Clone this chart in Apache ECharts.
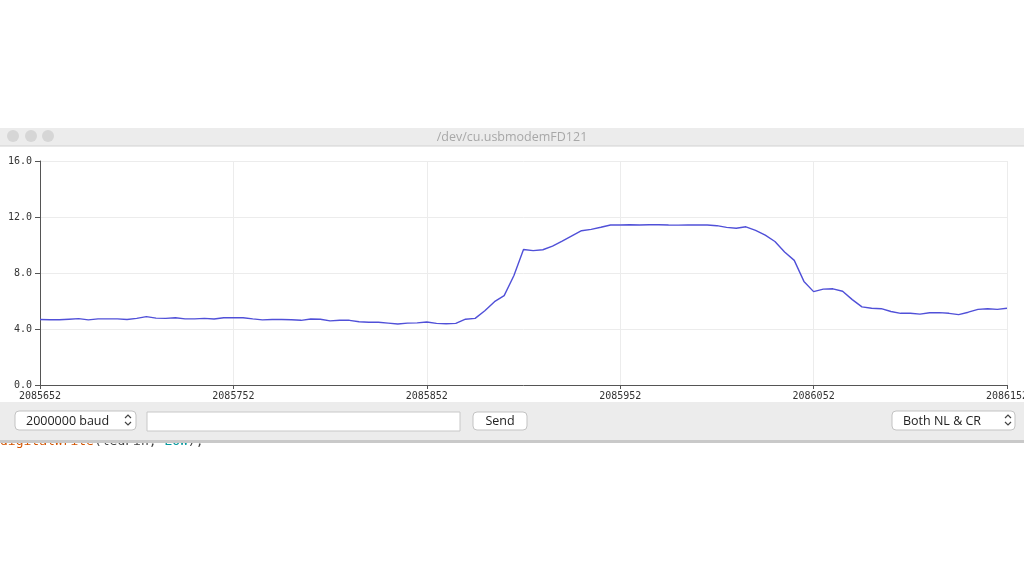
<!DOCTYPE html>
<html>
<head>
<meta charset="utf-8">
<script src="https://cdn.jsdelivr.net/npm/echarts@6/dist/echarts.min.js"></script>
<style>
html,body{margin:0;padding:0;background:#fff;}
#c{width:1024px;height:576px;}
</style>
</head>
<body>
<div id="c"></div>
<script>
// ---- data ----
const xStart = 2085652;          // first sample index shown
const xStep = 5;                 // sample spacing of the values below
const xTickLabels = ['2085652','2085752','2085852','2085952','2086052','2086152'];
const yTickLabels = ['0.0','4.0','8.0','12.0','16.0'];
const sensorValues = [
  4.68,4.66,4.66,4.70,4.74,4.65,4.72,4.72,4.72,4.68,
  4.76,4.88,4.78,4.76,4.80,4.72,4.72,4.76,4.71,4.80,
  4.80,4.80,4.72,4.65,4.68,4.68,4.66,4.62,4.71,4.70,
  4.58,4.62,4.62,4.52,4.48,4.48,4.42,4.36,4.42,4.44,
  4.50,4.40,4.38,4.40,4.70,4.76,5.30,5.95,6.38,7.80,
  9.68,9.60,9.66,9.92,10.28,10.65,11.02,11.12,11.27,11.43,
  11.43,11.45,11.43,11.45,11.45,11.43,11.42,11.43,11.43,11.43,
  11.38,11.26,11.20,11.30,11.05,10.71,10.25,9.50,8.90,7.40,
  6.67,6.85,6.87,6.70,6.10,5.58,5.48,5.45,5.25,5.12,
  5.12,5.06,5.16,5.17,5.12,5.03,5.20,5.40,5.45,5.40,
  5.48
];
const portName = '/dev/cu.usbmodemFD121';
const baudLabel = '2000000 baud';
const lineEndLabel = 'Both NL & CR';
const sendLabel = 'Send';

// ---- chart ----
const seriesData = sensorValues.map((v, i) => [i * xStep, v]);
const xSpan = (xTickLabels.length - 1) * 100;

function chevrons(cx, cy) {
  return [
    {type:'polyline', shape:{points:[[cx-3,cy-2],[cx,cy-5],[cx+3,cy-2]]}, style:{stroke:'#444', lineWidth:1.2, fill:null}, z:20},
    {type:'polyline', shape:{points:[[cx-3,cy+2],[cx,cy+5],[cx+3,cy+2]]}, style:{stroke:'#444', lineWidth:1.2, fill:null}, z:20}
  ];
}

const graphics = [
  // title bar
  {type:'rect', shape:{x:0,y:128,width:1024,height:18}, style:{fill:'#ececec'}, z:0},
  {type:'line', shape:{x1:0,y1:146,x2:1024,y2:146}, style:{stroke:'#d2d2d2', lineWidth:1}, z:1},
  {type:'circle', shape:{cx:13,cy:136,r:6}, style:{fill:'#d6d6d6'}, z:2},
  {type:'circle', shape:{cx:31,cy:136,r:6}, style:{fill:'#d6d6d6'}, z:2},
  {type:'circle', shape:{cx:48,cy:136,r:6}, style:{fill:'#d6d6d6'}, z:2},
  {type:'text', style:{x:512,y:137,text:portName,fill:'#a8a8a8',font:'12.5px "Open Sans", "Liberation Sans", sans-serif',align:'center',verticalAlign:'middle'}, z:2},
  // code text peeking below the window
  {type:'text', style:{x:0,y:435,text:'{o|digitalWrite}{k|(ledPin, }{t|LOW}{k|);}',font:'13px "DejaVu Sans Mono", monospace',verticalAlign:'top',
     rich:{o:{fill:'#d35400',font:'13px "DejaVu Sans Mono", monospace'},k:{fill:'#444',font:'13px "DejaVu Sans Mono", monospace'},t:{fill:'#00979c',font:'13px "DejaVu Sans Mono", monospace'}}}, z:1},
  // bottom panel
  {type:'rect', shape:{x:0,y:402,width:1024,height:38}, style:{fill:'#ececec'}, z:5},
  {type:'rect', shape:{x:0,y:440,width:1024,height:3}, style:{fill:'#c9c9c9'}, z:5},
  // baud select
  {type:'rect', shape:{x:15,y:411,width:121,height:19,r:4}, style:{fill:'#ffffff',stroke:'#c3c3c3',lineWidth:1}, z:10},
  {type:'text', style:{x:26,y:421,text:baudLabel,fill:'#222',font:'12.5px "Open Sans", "Liberation Sans", sans-serif',verticalAlign:'middle'}, z:11},
  // input field
  {type:'rect', shape:{x:147,y:412,width:313,height:19}, style:{fill:'#ffffff',stroke:'#c8c8c8',lineWidth:1}, z:10},
  // send button
  {type:'rect', shape:{x:473,y:412,width:54,height:18,r:4}, style:{fill:'#ffffff',stroke:'#c3c3c3',lineWidth:1}, z:10},
  {type:'text', style:{x:500,y:421,text:sendLabel,fill:'#222',font:'12.5px "Open Sans", "Liberation Sans", sans-serif',align:'center',verticalAlign:'middle'}, z:11},
  // line ending select
  {type:'rect', shape:{x:892,y:411,width:123,height:19,r:4}, style:{fill:'#ffffff',stroke:'#c3c3c3',lineWidth:1}, z:10},
  {type:'text', style:{x:903,y:421,text:lineEndLabel,fill:'#222',font:'12.5px "Open Sans", "Liberation Sans", sans-serif',verticalAlign:'middle'}, z:11}
].concat(chevrons(128, 420)).concat(chevrons(1008, 420));

const chart = echarts.init(document.getElementById('c'), null, {renderer:'canvas'});
chart.setOption({
  backgroundColor:'#ffffff',
  animation:false,
  grid:{left:40, right:17, top:161, bottom:191, containLabel:false, outerBoundsMode:'none'},
  xAxis:{
    type:'value', min:0, max:xSpan, interval:100,
    axisLine:{show:true, lineStyle:{color:'#555', width:1}},
    axisTick:{show:true, length:4, lineStyle:{color:'#555'}},
    splitLine:{show:true, lineStyle:{color:'#ececec', width:1}},
    axisLabel:{
      margin:6, color:'#333', fontSize:10, fontFamily:'"DejaVu Sans Mono", monospace',
      formatter:(v) => xTickLabels[Math.round(v / 100)] || ''
    }
  },
  yAxis:{
    type:'value', min:0, max:16, interval:4,
    axisLine:{show:true, lineStyle:{color:'#555', width:1}},
    axisTick:{show:true, length:5, lineStyle:{color:'#555'}},
    splitLine:{show:true, lineStyle:{color:'#ececec', width:1}},
    axisLabel:{
      margin:8, color:'#333', fontSize:10, fontFamily:'"DejaVu Sans Mono", monospace',
      formatter:(v) => yTickLabels[Math.round(v / 4)] || ''
    }
  },
  series:[{
    type:'line', data:seriesData, showSymbol:false, symbol:'none',
    lineStyle:{color:'#5050d8', width:1.4}, smooth:false
  }],
  graphic:graphics
});
</script>
</body>
</html>
